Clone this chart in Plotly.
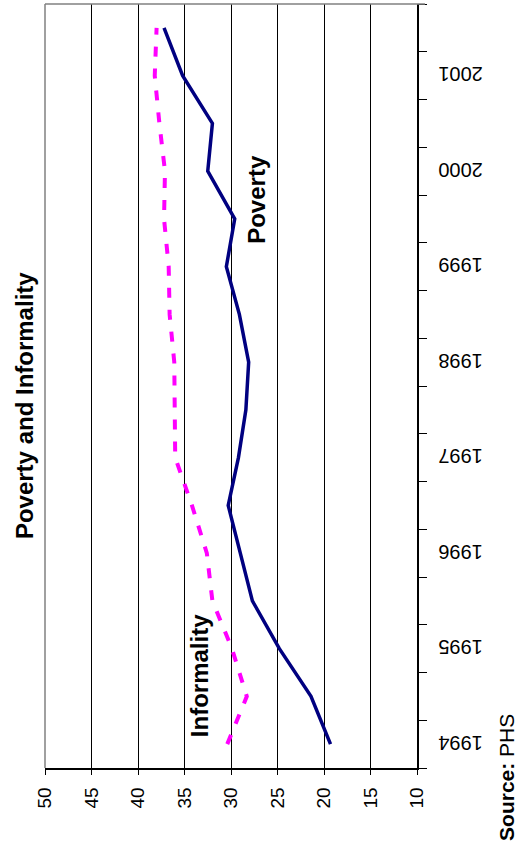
import plotly.graph_objects as go

# Data (half-yearly observations, 1994-I .. 2001-II)
years = ["1994", "1995", "1996", "1997", "1998", "1999", "2000", "2001"]
periods = [f"{y}-{h}" for y in years for h in ("I", "II")]
poverty = [19.3, 21.4, 24.8, 27.7, 29.0, 30.3, 29.2, 28.4,
           28.1, 29.1, 30.5, 29.6, 32.5, 32.0, 35.2, 37.2]
informality = [30.4, 28.3, 29.9, 32.0, 32.6, 34.2, 36.0, 36.1,
               36.1, 36.6, 36.7, 37.2, 37.1, 37.7, 38.2, 38.0]
value_ticks = [10, 15, 20, 25, 30, 35, 40, 45, 50]

pos = list(range(len(periods)))
label_shift = 0.1  # small visual offset for upside-down labels
year_pos = [p - label_shift for p in pos[::2]]
boundaries = [p - 0.5 for p in pos] + [pos[-1] + 0.5]

FONT = "Liberation Sans, Arial, sans-serif"

fig = go.Figure()
fig.add_trace(go.Scatter(x=informality, y=pos, mode="lines", name="Informality",
                         line=dict(color="#FF00FF", width=4, dash="10px,12px")))
fig.add_trace(go.Scatter(x=poverty, y=pos, mode="lines", name="Poverty",
                         line=dict(color="#000080", width=3.5)))

fig.update_layout(
    width=519, height=847,
    margin=dict(l=45, r=102, t=4, b=79),
    paper_bgcolor="white", plot_bgcolor="white",
    showlegend=False,
    font=dict(family=FONT, color="black"),
    xaxis=dict(
        range=[50, 10], tickvals=value_ticks, tickangle=-90,
        tickfont=dict(size=19, family=FONT),
        showgrid=True, gridcolor="black", gridwidth=1,
        showline=True, linecolor="black", linewidth=1.5,
        ticks="outside", ticklen=5, tickcolor="black",
        zeroline=False, ticklabelstandoff=5, automargin=False,
    ),
    yaxis=dict(
        range=[boundaries[0], boundaries[-1]], side="right",
        tickvals=year_pos, ticktext=years, tickangle=180,
        tickfont=dict(size=20, family=FONT),
        ticks="", showgrid=False, zeroline=False,
        showline=True, linecolor="black", linewidth=1.5,
        ticklabelstandoff=60, automargin=False,
        minor=dict(tickvals=boundaries, ticks="outside", ticklen=8,
                   tickcolor="black", tickwidth=1, showgrid=False),
    ),
    shapes=[
        dict(type="line", xref="paper", yref="paper", x0=0, x1=0, y0=0, y1=1,
             line=dict(color="#808080", width=1.5)),
        dict(type="line", xref="paper", yref="paper", x0=0, x1=1.0215, y0=1, y1=1,
             line=dict(color="#808080", width=1.5)),
    ],
    annotations=[
        dict(text="<b>Poverty and Informality</b>", xref="paper", yref="paper",
             x=-0.0565, y=0.475, textangle=-90, showarrow=False,
             xanchor="center", yanchor="middle", font=dict(size=24, family=FONT)),
        dict(text="<b>Informality</b>", xref="x", yref="y",
             x=33.3, y=1.43, textangle=-90, showarrow=False,
             xanchor="center", yanchor="middle", font=dict(size=24, family=FONT)),
        dict(text="<b>Poverty</b>", xref="x", yref="y",
             x=27.2, y=11.4, textangle=-90, showarrow=False,
             xanchor="center", yanchor="middle", font=dict(size=24, family=FONT)),
        dict(text="<b>Source:</b> PHS", xref="paper", yref="paper",
             x=1.239, y=-0.0118, textangle=-90, showarrow=False,
             xanchor="center", yanchor="middle", font=dict(size=21, family=FONT)),
    ],
)

fig.write_html("out.html", config={"displayModeBar": False},
               post_script="document.body.style.margin='0';")
